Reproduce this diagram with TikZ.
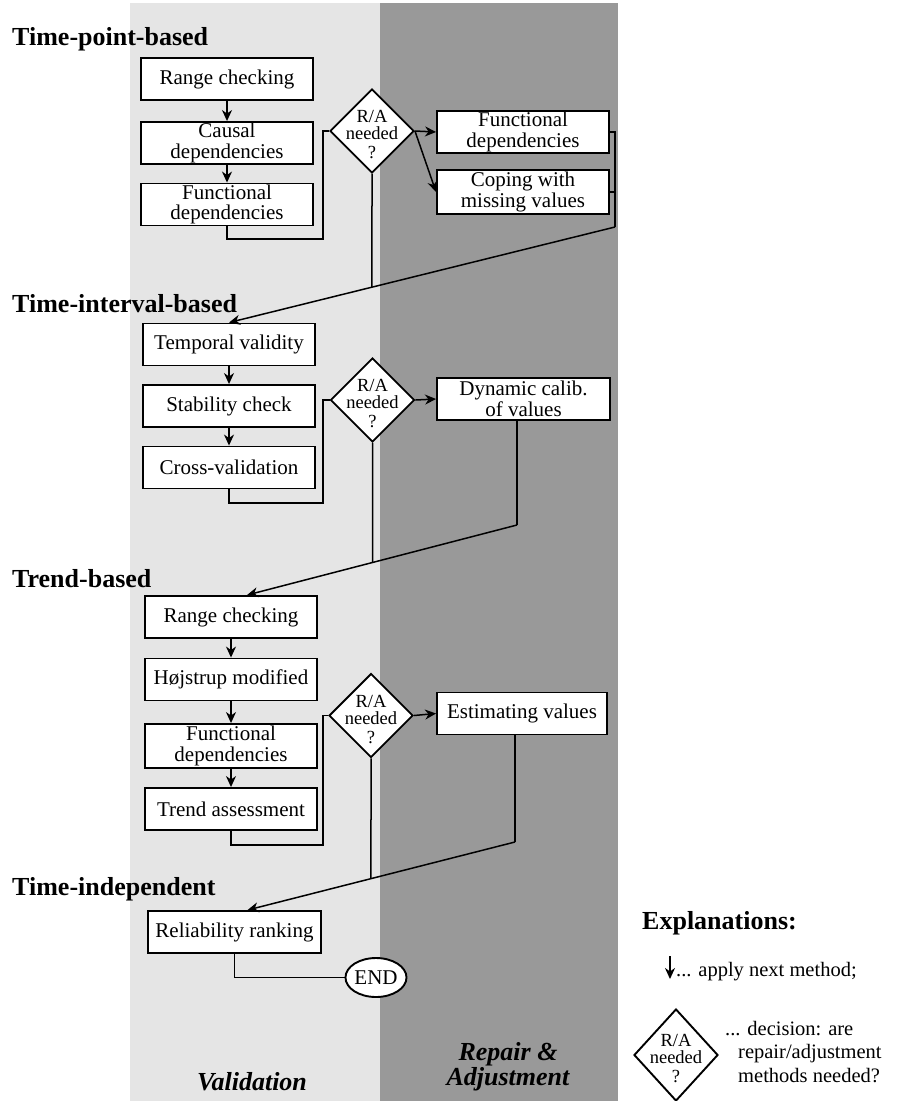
\documentclass[tikz,border=0pt]{standalone}
\usepackage{fontspec}
\setmainfont{Liberation Serif}
\usetikzlibrary{shapes.geometric,arrows.meta}

\begin{document}
\begin{tikzpicture}[x=1pt,y=-1pt,
        method/.style={draw,fill=white,line width=1.9pt,minimum width=172pt,minimum height=42pt,inner sep=0pt,align=center,font=\fontsize{21}{20.5}\selectfont},
        decision/.style={draw,fill=white,diamond,line width=1.9pt,minimum width=84pt,minimum height=84pt,inner sep=0pt},
        dtext/.style={align=center,inner sep=0pt,font=\fontsize{18.5}{17}\selectfont},
        line/.style={line width=1.5pt},
        flow/.style={line width=1.5pt,-{Stealth[length=11pt,width=10pt,inset=3.5pt]}},
        level/.style={anchor=base west,inner sep=0pt,font=\fontsize{26}{28}\selectfont\bfseries},
        lane/.style={align=center,inner sep=0pt,font=\fontsize{26}{22}\selectfont\bfseries\itshape},
        legend/.style={inner sep=0pt,font=\fontsize{20.5}{23.5}\selectfont}]
            \useasboundingbox (0,0) rectangle (899,1101);
            \fill[black!10] (130,3) rectangle (380,1101);
            \fill[black!40] (380,3) rectangle (618,1101);

            \node[level] (tp) at (12,45) {Time-point-based};
            \node[level] (ti) at (12,312) {Time-interval-based};
            \node[level] (tb) at (12,587) {Trend-based};
            \node[level] (tind) at (12,895) {Time-independent};

            \node[method] (r1) at (227,79) {Range checking};
            \node[method] (c1) at (227,143) {Causal\\dependencies};
            \node[method] (f1) at (227,204.5) {Functional\\dependencies};
            \node[decision] (d1) at (372,131) {};
            \node[dtext] at ([yshift=-4pt]d1.center) {R/A\\needed\\[2pt]?};
            \node[method] (rf1) at (523,132) {Functional\\dependencies};
            \node[method,minimum height=44pt] (rm1) at (523,192) {Coping with\\missing values};

            \node[method] (t2) at (229,344.5) {Temporal validity};
            \node[method] (s2) at (229,406) {Stability check};
            \node[method] (cv2) at (229,467.5) {Cross-validation};
            \node[decision] (d2) at (372.5,400) {};
            \node[dtext] at ([yshift=-4pt]d2.center) {R/A\\needed\\[2pt]?};
            \node[method,minimum width=173pt] (dc2) at (523.5,399) {Dynamic calib.\\of values};

            \node[method] (r3) at (231,617) {Range checking};
            \node[method] (h3) at (231,679.5) {Højstrup modified};
            \node[method,minimum height=44pt] (f3) at (231,746) {Functional\\dependencies};
            \node[method] (ta3) at (231,809) {Trend assessment};
            \node[decision] (d3) at (371,715.5) {};
            \node[dtext] at ([yshift=-4pt]d3.center) {R/A\\needed\\[2pt]?};
            \node[method,minimum width=170pt] (e3) at (522,713.5) {Estimating values};

            \node[method,minimum width=173pt] (rr4) at (234.5,932) {Reliability ranking};
            \node[draw,fill=white,ellipse,line width=1.9pt,minimum width=58pt,minimum height=39pt,inner sep=0pt,font=\fontsize{21}{21}\selectfont] (stop) at (376,977.5) {END};

            \coordinate (j1) at (323,239);
            \coordinate (k1) at (615,227);
            \coordinate (a2) at (t2.north);
            \coordinate (j2) at (323,503);
            \coordinate (k2) at (517,525);
            \coordinate (a3) at ([xshift=16pt]r3.north);
            \coordinate (j3) at (323,845);
            \coordinate (k3) at (515,842);
            \coordinate (a4) at ([xshift=13pt]rr4.north);

            \draw[flow] (r1) -- (c1);
            \draw[flow] (c1) -- (f1);
            \draw[line] (f1.south) |- (j1) |- (d1.west);
            \draw[flow] (d1.east) -- (rf1.west);
            \draw[flow] (d1.east) -- (rm1.west);
            \draw[line] (rf1.east) -| (k1);
            \draw[line] (rm1.east) -- (rm1.east -| k1);
            \draw[flow] (k1) -- (a2);
            \draw[line] (d1.south) -- (intersection of d1.north--d1.south and k1--a2);

            \draw[flow] (t2) -- (s2);
            \draw[flow] (s2) -- (cv2);
            \draw[line] (cv2.south) |- (j2) |- (d2.west);
            \draw[flow] (d2.east) -- (dc2.west);
            \draw[line] (dc2.south -| k2) -- (k2);
            \draw[flow] (k2) -- (a3);
            \draw[line] (d2.south) -- (intersection of d2.north--d2.south and k2--a3);

            \draw[flow] (r3) -- (h3);
            \draw[flow] (h3) -- (f3);
            \draw[flow] (f3) -- (ta3);
            \draw[line] (ta3.south) |- (j3) |- (d3.west);
            \draw[flow] (d3.east) -- (e3.west);
            \draw[line] (e3.south -| k3) -- (k3);
            \draw[flow] (k3) -- (a4);
            \draw[line] (d3.south) -- (intersection of d3.north--d3.south and k3--a4);

            \draw[line] (rr4.south) |- (stop.west);

            \node[lane,anchor=base] (val) at (252,1090) {Validation};
            \node[lane] (rep) at (508,1067) {Repair \&\\Adjustment};

            \node[level] (expl) at (642,929) {Explanations:};
            \draw[flow] (670,956) -- (670,979);
            \node[legend,anchor=base west] (next) at (676,976) {... apply next method;};
            \node[decision,minimum height=92pt] (dleg) at (676,1055) {};
            \node[dtext] at ([yshift=-4pt]dleg.center) {R/A\\needed\\[2pt]?};
            \node[legend,anchor=north west,align=left] (dec) at (725,1021) {... decision: are\\\hspace*{13pt}repair/adjustment\\\hspace*{13pt}methods needed?};
        \end{tikzpicture}
\end{document}
